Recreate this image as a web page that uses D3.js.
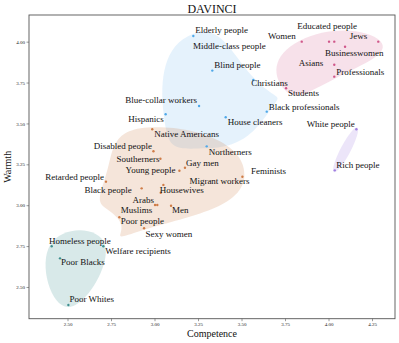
<!DOCTYPE html>
<html>
<head>
<meta charset="utf-8">
<script src="https://cdn.jsdelivr.net/npm/d3@7"></script>
<style>
  body { margin: 0; background: #fff; }
  text { font-family: "Liberation Serif", "Times New Roman", serif; }
</style>
</head>
<body>
<div id="chart"></div>
<script>
var names = [
  "Elderly people", "Blind people", "Christians", "Blue-collar workers", "Hispanics",
  "House cleaners", "Black professionals", "Northerners",
  "Women", "Middle-class people", "Educated people", "Jews", "Businesswomen",
  "Asians", "Professionals", "Students",
  "Native Americans", "Disabled people", "Southerners", "Young people", "Gay men",
  "Migrant workers", "Housewives", "Black people", "Arabs", "Muslims", "Men",
  "Poor people", "Sexy women", "Feminists", "Retarded people",
  "White people", "Rich people",
  "Homeless people", "Poor Blacks", "Welfare recipients", "Poor Whites"
];
var competence = [
  3.223, 3.332, 3.568, 3.256, 3.064, 3.409, 3.645, 3.300,
  3.846, 4.003, 4.033, 4.286, 4.095, 4.033, 4.033, 3.756,
  2.987, 2.994, 3.034, 3.143, 3.175, 3.051, 3.036, 2.926, 3.003, 3.016, 3.095,
  2.798, 2.940, 3.505, 2.721,
  4.160, 4.036,
  2.409, 2.457, 2.706, 2.505
];
var warmth = [
  4.035, 3.823, 3.766, 3.607, 3.556, 3.538, 3.572, 3.360,
  4.000, 4.000, 4.000, 4.000, 3.969, 3.859, 3.786, 3.715,
  3.464, 3.330, 3.284, 3.211, 3.229, 3.124, 3.076, 3.103, 3.001, 3.001, 2.997,
  2.926, 2.859, 3.174, 3.144,
  3.464, 3.213,
  2.749, 2.675, 2.749, 2.390
];
var cluster = [
  0, 0, 0, 0, 0, 0, 0, 0,
  1, 1, 1, 1, 1, 1, 1, 1,
  2, 2, 2, 2, 2, 2, 2, 2, 2, 2, 2, 2, 2, 2, 2,
  3, 3,
  4, 4, 4, 4
];
var xTicks = [2.50, 2.75, 3.00, 3.25, 3.50, 3.75, 4.00, 4.25];
var yTicks = [2.50, 2.75, 3.00, 3.25, 3.50, 3.75, 4.00];

// label placement (px offset from the point, anchor), like adjustText left them
var labelPlace = {
  "Elderly people": [2, -3, "start"],
  "Blind people": [2, -3, "start"],
  "Christians": [-2, 6, "start"],
  "Blue-collar workers": [-2, -3, "end"],
  "Hispanics": [-2, 8, "end"],
  "House cleaners": [2, 8, "start"],
  "Black professionals": [2, -2, "start"],
  "Northerners": [2, 9, "start"],
  "Women": [-6, -3, "end"],
  "Middle-class people": [-136, 7, "start"],
  "Educated people": [-37, -13, "start"],
  "Jews": [-11, -3, "end"],
  "Businesswomen": [-20, 9, "start"],
  "Asians": [-11, 1, "end"],
  "Professionals": [2, -2, "start"],
  "Students": [2, 8, "start"],
  "Native Americans": [2, 8, "start"],
  "Disabled people": [-1.5, -2, "end"],
  "Southerners": [-1, 3.3, "end"],
  "Young people": [-4, 2.3, "end"],
  "Gay men": [1, -2, "start"],
  "Migrant workers": [26, -1, "start"],
  "Housewives": [-1, 0.5, "start"],
  "Black people": [-10, 5, "end"],
  "Arabs": [-1, -2, "end"],
  "Muslims": [-5, 8, "end"],
  "Men": [1, 7.5, "start"],
  "Poor people": [1.5, 6.5, "start"],
  "Sexy women": [1.5, 9, "start"],
  "Feminists": [8.5, -3, "start"],
  "Retarded people": [-2, -1.7, "end"],
  "White people": [-1.5, -2, "end"],
  "Rich people": [1.5, -2, "start"],
  "Homeless people": [-2.7, -2.3, "start"],
  "Poor Blacks": [1, 7, "start"],
  "Welfare recipients": [2, 8, "start"],
  "Poor Whites": [1, -2.5, "start"]
};

var colors = ["#4fa8e8", "#d0578a", "#cf7c47", "#a07fe0", "#3e8f8f"];
var fillAlpha = [0.15, 0.18, 0.2, 0.2, 0.2];

var width = 399, height = 343;
var frame = { left: 29, right: 395, top: 15, bottom: 318.7 };

var svg = d3.select("#chart").append("svg")
    .attr("width", width)
    .attr("height", height);

var x = d3.scaleLinear().domain([2.2787, 4.382]).range([frame.left, frame.right]);
var y = d3.scaleLinear().domain([2.306, 4.163]).range([frame.bottom, frame.top]);

var points = names.map(function(n, i) {
    return { name: n, c: competence[i], w: warmth[i], g: cluster[i] };
});

// blobs: smoothed hull round each cluster
var blobLayer = svg.append("g");
var line = d3.line().curve(d3.curveCardinalClosed.tension(-0.9));
d3.range(colors.length).forEach(function(g) {
    var pts = points.filter(function(p) { return p.g === g; })
        .map(function(p) { return [x(p.c), y(p.w)]; });
    var col = d3.color(colors[g]);
    col.opacity = fillAlpha[g];
    if (pts.length < 3) {
        var a = pts[0], b = pts[1];
        var cx = (a[0] + b[0]) / 2, cy = (a[1] + b[1]) / 2;
        var len = Math.hypot(b[0] - a[0], b[1] - a[1]) / 2 + 2;
        var ang = Math.atan2(b[1] - a[1], b[0] - a[0]) * 180 / Math.PI;
        blobLayer.append("ellipse")
            .attr("cx", cx).attr("cy", cy)
            .attr("rx", len).attr("ry", 5)
            .attr("transform", "rotate(" + ang + "," + cx + "," + cy + ")")
            .attr("fill", col.toString());
        return;
    }
    var hull = d3.polygonHull(pts);
    var cen = d3.polygonCentroid(hull);
    var padded = hull.map(function(p) {
        var dx = p[0] - cen[0], dy = p[1] - cen[1];
        var d = Math.hypot(dx, dy);
        return [p[0] + dx / d * 2, p[1] + dy / d * 2];
    });
    blobLayer.append("path")
        .attr("d", line(padded))
        .attr("fill", col.toString());
});

// frame
svg.append("rect")
    .attr("x", frame.left).attr("y", frame.top)
    .attr("width", frame.right - frame.left)
    .attr("height", frame.bottom - frame.top)
    .attr("fill", "none")
    .attr("stroke", "#555")
    .attr("stroke-width", 0.9);

var xAxis = svg.append("g")
    .attr("transform", "translate(0," + frame.bottom + ")")
    .call(d3.axisBottom(x).tickValues(xTicks).tickFormat(d3.format(".2f"))
        .tickSize(2.5).tickPadding(1.5));
var yAxis = svg.append("g")
    .attr("transform", "translate(" + frame.left + ",0)")
    .call(d3.axisLeft(y).tickValues(yTicks).tickFormat(d3.format(".2f"))
        .tickSize(2.5).tickPadding(1.5));
[xAxis, yAxis].forEach(function(ax) {
    ax.select(".domain").remove();
    ax.selectAll(".tick line").attr("stroke", "#555").attr("stroke-width", 0.6);
    ax.selectAll(".tick text")
        .style("font-family", "'Liberation Serif', serif")
        .style("font-size", "5px")
        .attr("fill", "#222");
});

// points
svg.append("g").selectAll("circle")
    .data(points)
    .enter().append("circle")
    .attr("cx", function(d) { return x(d.c); })
    .attr("cy", function(d) { return y(d.w); })
    .attr("r", 1.2)
    .attr("fill", function(d) { return colors[d.g]; });

// labels
svg.append("g").selectAll("text")
    .data(points)
    .enter().append("text")
    .attr("x", function(d) { return x(d.c) + labelPlace[d.name][0]; })
    .attr("y", function(d) { return y(d.w) + labelPlace[d.name][1]; })
    .attr("text-anchor", function(d) { return labelPlace[d.name][2]; })
    .style("font-size", "9px")
    .attr("fill", "#111")
    .text(function(d) { return d.name; });

// title and axis titles
svg.append("text")
    .attr("x", (frame.left + frame.right) / 2)
    .attr("y", 12.5)
    .attr("text-anchor", "middle")
    .style("font-size", "12px")
    .attr("fill", "#111")
    .text("DAVINCI");

svg.append("text")
    .attr("x", (frame.left + frame.right) / 2)
    .attr("y", 337)
    .attr("text-anchor", "middle")
    .style("font-size", "10px")
    .attr("fill", "#111")
    .text("Competence");

svg.append("text")
    .attr("transform", "translate(11," + ((frame.top + frame.bottom) / 2) + ") rotate(-90)")
    .attr("text-anchor", "middle")
    .style("font-size", "10px")
    .attr("fill", "#111")
    .text("Warmth");
</script>
</body>
</html>
